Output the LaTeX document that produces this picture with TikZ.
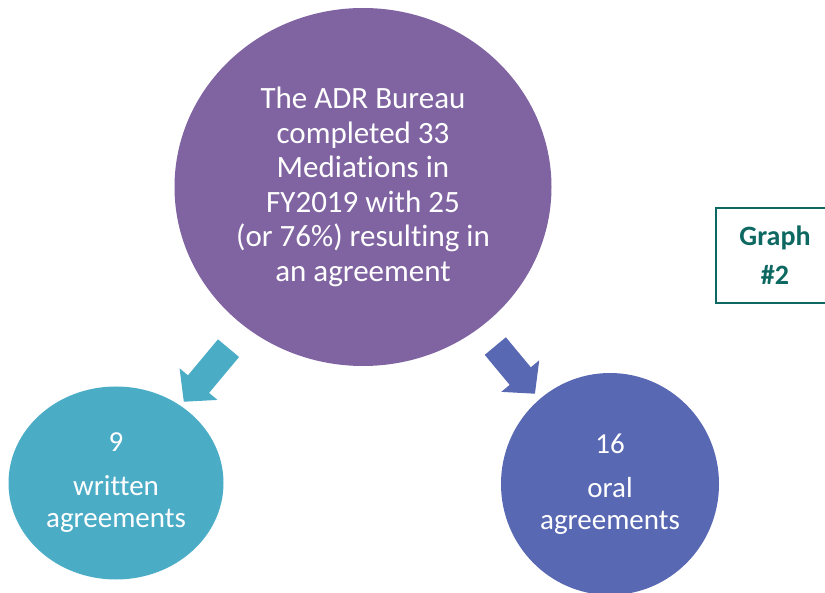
\documentclass[tikz,border=0pt]{standalone}
\usepackage{fontspec}
\setmainfont{Carlito}[Ligatures=NoCommon]
\usetikzlibrary{shapes.geometric,arrows.meta,positioning}
\definecolor{mainpurple}{RGB}{128,100,162}
\definecolor{writtenteal}{RGB}{75,172,198}
\definecolor{oralblue}{RGB}{88,104,178}
\definecolor{labelgreen}{RGB}{12,104,96}
\tikzstyle{mainbubble} = [ellipse, fill=mainpurple, text=white, minimum width=377pt, minimum height=358pt, inner sep=0pt, align=center, font=\fontsize{31}{34.5}\selectfont]
\tikzstyle{countdata} = [ellipse, text=white, inner sep=0pt, align=center, font=\fontsize{29}{32}\selectfont]
\tikzstyle{blockarrow} = [draw, line width=27.5pt, -{Triangle[width=48pt,length=23pt]}]
\tikzstyle{tag} = [draw=labelgreen, line width=1.5pt, text=labelgreen, minimum width=118pt, minimum height=95pt, align=center, font=\fontsize{28}{39}\selectfont\bfseries]
\newcommand{\countdata}[3]{node (c#1) [countdata, #2] {#3}}

\begin{document}
\begin{tikzpicture}[x=1pt,y=-1pt]
\useasboundingbox (0,0) rectangle (825,593);
\path (363,187) node (main) [mainbubble] {The ADR Bureau\\completed 33\\Mediations in\\FY2019 with 25\\(or 76\%) resulting in\\an agreement};
\path (main)+(-247,296) \countdata{1}{fill=writtenteal, minimum width=215pt, minimum height=193pt}{9\\[12pt]written\\agreements};
\path (main)+(247,297) \countdata{2}{fill=oralblue, minimum width=218pt, minimum height=222pt}{16\\[12pt]oral\\agreements};
\path [blockarrow, color=writtenteal, shorten <=27pt, shorten >=5pt] (main) -- (c1);
\path [blockarrow, color=oralblue, shorten <=24pt, shorten >=7pt] (main) -- (c2);
\path (775,255.5) node (t1) [tag] {Graph\\\#2};
\end{tikzpicture}
\end{document}
